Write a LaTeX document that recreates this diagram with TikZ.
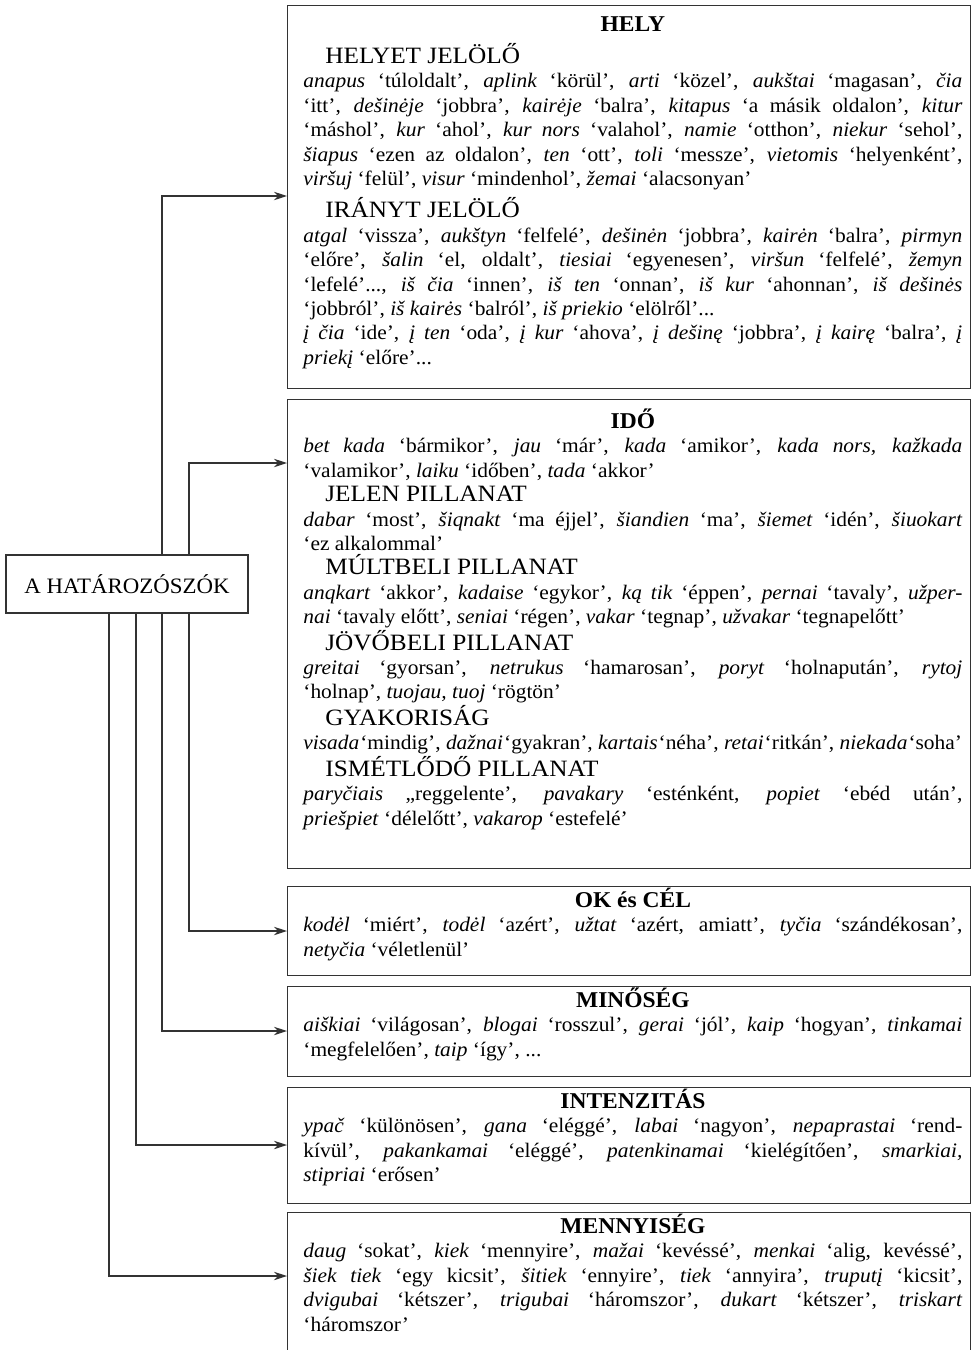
\documentclass[tikz,border=0pt]{standalone}
\usepackage{fontspec}
\setmainfont[FakeStretch=1.04]{Liberation Serif}
\usetikzlibrary{arrows.meta}
\setlength{\parindent}{0pt}
\hyphenpenalty=10000
\lineskiplimit=-100pt

% főcím és alcím a dobozokban
\newcommand{\focim}[1]{{\centering\fontsize{11.3}{12.2}\selectfont\bfseries\rule{0pt}{11pt}#1\par}}
\newcommand{\alcim}[1]{{\fontsize{11.7}{12.2}\selectfont\addfontfeatures{FakeStretch=1.08}\hspace*{11pt}#1\par}}

\begin{document}
\begin{tikzpicture}[x=0.5pt, y=-0.5pt,
    catbox/.style={draw=black!80, line width=0.65pt, inner sep=0pt, minimum width=341.5pt, anchor=north west},
    boxtext/.style={anchor=north west, inner sep=0pt, text width=329.5pt, align=justify, font=\fontsize{10.3}{12.2}\selectfont},
    conn/.style={draw=black!80, line width=0.6pt, -{Stealth[length=6.5pt, width=4.2pt]}}]
    \useasboundingbox (0,0) rectangle (971,1350);

    % Gyökér
    \node[draw=black!80, line width=0.65pt, minimum width=121pt, minimum height=29pt,
          font=\fontsize{11}{13}\selectfont] (root) at (127,584) {A HATÁROZÓSZÓK};

    % Dobozok
    \node[catbox, minimum height=191.5pt] (hely) at (287,5) {};
    \node[catbox, minimum height=234.5pt] (ido) at (287,399) {};
    \node[catbox, minimum height=44.5pt] (ok) at (287,886) {};
    \node[catbox, minimum height=45pt] (minoseg) at (287,986) {};
    \node[catbox, minimum height=58pt] (intenz) at (287,1087) {};
    \node[catbox, minimum height=70pt] (menny) at (287,1212) {};

    % Szövegek
    \node[boxtext] at ([xshift=8pt, yshift=-2pt]hely.north west) {%
        \focim{HELY}\vspace{3.8pt}
        \alcim{HELYET JELÖLŐ}
        \textit{anapus} ‘túloldalt’, \textit{aplink} ‘körül’, \textit{arti} ‘közel’, \textit{aukštai} ‘magasan’, \textit{čia}\linebreak
        ‘itt’, \textit{dešinėje} ‘jobbra’, \textit{kairėje} ‘balra’, \textit{kitapus} ‘a másik oldalon’, \textit{kitur}\linebreak
        ‘máshol’, \textit{kur} ‘ahol’, \textit{kur nors} ‘valahol’, \textit{namie} ‘otthon’, \textit{niekur} ‘sehol’,\linebreak
        \textit{šiapus} ‘ezen az oldalon’, \textit{ten} ‘ott’, \textit{toli} ‘messze’, \textit{vietomis} ‘helyenként’,\linebreak
        \textit{viršuj} ‘felül’, \textit{visur} ‘mindenhol’, \textit{žemai} ‘alacsonyan’\par
        \vspace{3pt}
        \alcim{IRÁNYT JELÖLŐ}
        \textit{atgal} ‘vissza’, \textit{aukštyn} ‘felfelé’, \textit{dešinėn} ‘jobbra’, \textit{kairėn} ‘balra’, \textit{pirmyn}\linebreak
        ‘előre’, \textit{šalin} ‘el, oldalt’, \textit{tiesiai} ‘egyenesen’, \textit{viršun} ‘felfelé’, \textit{žemyn}\linebreak
        ‘lefelé’..., \textit{iš čia} ‘innen’, \textit{iš ten} ‘onnan’, \textit{iš kur} ‘ahonnan’, \textit{iš dešinės}\linebreak
        ‘jobbról’, \textit{iš kairės} ‘balról’, \textit{iš priekio} ‘elölről’...\par
        \textit{į čia} ‘ide’, \textit{į ten} ‘oda’, \textit{į kur} ‘ahova’, \textit{į dešinę} ‘jobbra’, \textit{į kairę} ‘balra’, \textit{į}\linebreak
        \textit{priekį} ‘előre’...\par};

    \node[boxtext] at ([xshift=8pt, yshift=-3.5pt]ido.north west) {%
        \focim{IDŐ}
        \textit{bet kada} ‘bármikor’, \textit{jau} ‘már’, \textit{kada} ‘amikor’, \textit{kada nors, kažkada}\linebreak
        ‘valamikor’, \textit{laiku} ‘időben’, \textit{tada} ‘akkor’\par
        \alcim{JELEN PILLANAT}
        \textit{dabar} ‘most’, \textit{šiqnakt} ‘ma éjjel’, \textit{šiandien} ‘ma’, \textit{šiemet} ‘idén’, \textit{šiuokart}\linebreak
        ‘ez alkalommal’\par
        \alcim{MÚLTBELI PILLANAT}
        \textit{anqkart} ‘akkor’, \textit{kadaise} ‘egykor’, \textit{ką tik} ‘éppen’, \textit{pernai} ‘tavaly’, \textit{užper-}\linebreak
        \textit{nai} ‘tavaly előtt’, \textit{seniai} ‘régen’, \textit{vakar} ‘tegnap’, \textit{užvakar} ‘tegnapelőtt’\par
        \alcim{JÖVŐBELI PILLANAT}
        \textit{greitai} ‘gyorsan’, \textit{netrukus} ‘hamarosan’, \textit{poryt} ‘holnapután’, \textit{rytoj}\linebreak
        ‘holnap’, \textit{tuojau, tuoj} ‘rögtön’\par
        \alcim{GYAKORISÁG}
        \textit{visada}\hspace{0.5pt}‘mindig’, \textit{dažnai}\hspace{0.5pt}‘gyakran’, \textit{kartais}\hspace{0.5pt}‘néha’, \textit{retai}\hspace{0.5pt}‘ritkán’, \textit{niekada}\hspace{0.5pt}‘soha’\par
        \alcim{ISMÉTLŐDŐ PILLANAT}
        \textit{paryčiais} „reggelente’, \textit{pavakary} ‘esténként, \textit{popiet} ‘ebéd után’,\linebreak
        \textit{priešpiet} ‘délelőtt’, \textit{vakarop} ‘estefelé’\par};

    \node[boxtext] at ([xshift=8pt, yshift=0.5pt]ok.north west) {%
        \focim{OK és CÉL}
        \textit{kodėl} ‘miért’, \textit{todėl} ‘azért’, \textit{užtat} ‘azért, amiatt’, \textit{tyčia} ‘szándékosan’,\linebreak
        \textit{netyčia} ‘véletlenül’\par};

    \node[boxtext] at ([xshift=8pt, yshift=0.5pt]minoseg.north west) {%
        \focim{MINŐSÉG}
        \textit{aiškiai} ‘világosan’, \textit{blogai} ‘rosszul’, \textit{gerai} ‘jól’, \textit{kaip} ‘hogyan’, \textit{tinkamai}\linebreak
        ‘megfelelően’, \textit{taip} ‘így’, ...\par};

    \node[boxtext] at ([xshift=8pt, yshift=0.5pt]intenz.north west) {%
        \focim{INTENZITÁS}
        \textit{ypač} ‘különösen’, \textit{gana} ‘eléggé’, \textit{labai} ‘nagyon’, \textit{nepaprastai} ‘rend-\linebreak
        kívül’, \textit{pakankamai} ‘eléggé’, \textit{patenkinamai} ‘kielégítően’, \textit{smarkiai,}\linebreak
        \textit{stipriai} ‘erősen’\par};

    \node[boxtext] at ([xshift=8pt, yshift=0.5pt]menny.north west) {%
        \focim{MENNYISÉG}
        \textit{daug} ‘sokat’, \textit{kiek} ‘mennyire’, \textit{mažai} ‘kevéssé’, \textit{menkai} ‘alig, kevéssé’,\linebreak
        \textit{šiek tiek} ‘egy kicsit’, \textit{šitiek} ‘ennyire’, \textit{tiek} ‘annyira’, \textit{truputį} ‘kicsit’,\linebreak
        \textit{dvigubai} ‘kétszer’, \textit{trigubai} ‘háromszor’, \textit{dukart} ‘kétszer’, \textit{triskart}\linebreak
        ‘háromszor’\par};

    % Nyilak
    \draw[conn] (root.north -| 162,0) |- (hely.west |- 0,196);
    \draw[conn] (root.north -| 189,0) |- (ido.west |- 0,463);
    \draw[conn] (root.south -| 189,0) |- (ok.west |- 0,931);
    \draw[conn] (root.south -| 162,0) |- (minoseg.west |- 0,1031);
    \draw[conn] (root.south -| 136,0) |- (intenz.west |- 0,1145);
    \draw[conn] (root.south -| 109,0) |- (menny.west |- 0,1276);
\end{tikzpicture}
\end{document}
